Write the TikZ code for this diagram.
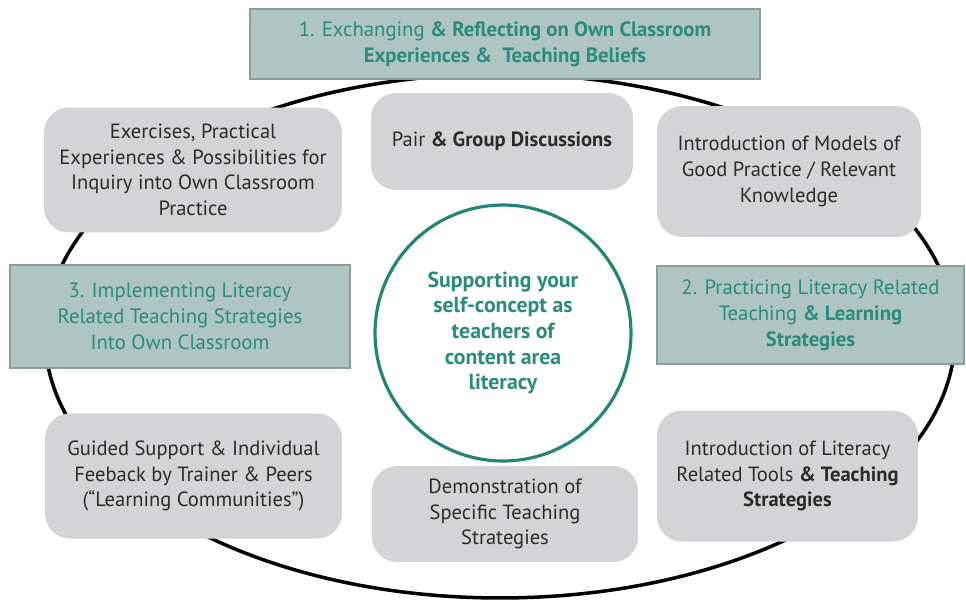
\documentclass[tikz,border=0pt]{standalone}
\usepackage{fontspec}
\setmainfont{PT Sans}
\usetikzlibrary{shapes.geometric}

\definecolor{tealfill}{HTML}{AEC5C1}
\definecolor{tealline}{HTML}{8E9C9A}
\definecolor{tealtext}{HTML}{2A8C7A}
\definecolor{ringteal}{HTML}{218774}
\definecolor{greyfill}{HTML}{D4D4D6}
\definecolor{darktext}{HTML}{2B2B2B}

\tikzset{
  phase/.style={draw=tealline, line width=1.3pt, fill=tealfill, text=tealtext, align=center, font=\fontsize{11.8}{14.8}\selectfont},
  activity/.style={fill=greyfill, rounded corners=0.5cm, text=darktext, align=center, font=\fontsize{11.7}{14.6}\selectfont},
}

\begin{document}
\begin{tikzpicture}[x=0.02cm, y=-0.02cm]
  \useasboundingbox (0,0) rectangle (966,603);
  % outer cycle
  \path[draw, line width=2pt] (500,336) ellipse [x radius=9.1cm, y radius=5.24cm];
  % phases
  \node[phase, minimum width=10.2cm, minimum height=1.4cm] (exchange) at (505,44)
    {1. Exchanging \textbf{\& Reflecting on Own Classroom}\\ \textbf{Experiences \& \ Teaching Beliefs}};
  \node[phase, minimum width=6.8cm, minimum height=2.06cm] (implement) at (180,316.5)
    {3. Implementing Literacy\\ Related Teaching Strategies\\ Into Own Classroom};
  \node[phase, minimum width=6.14cm, minimum height=1.96cm] (practice) at (810.5,315)
    {2. Practicing Literacy Related\\ Teaching \textbf{\& Learning}\\ \textbf{Strategies}};
  % activities
  \node[activity, minimum width=5.96cm, minimum height=2.5cm] (exercises) at (193,170)
    {Exercises, Practical\\ Experiences \& Possibilities for\\ Inquiry into Own Classroom\\ Practice};
  \node[activity, minimum width=5.24cm, minimum height=1.94cm] (discuss) at (502,141.5)
    {Pair \textbf{\& Group Discussions}};
  \node[activity, minimum width=5.28cm, minimum height=2.62cm] (models) at (789,171.5)
    {Introduction of Models of\\ Good Practice / Relevant\\ Knowledge};
  \node[activity, minimum width=5.94cm, minimum height=2.5cm] (guided) at (193.5,476)
    {Guided Support \& Individual\\ Feeback by Trainer \& Peers\\ (“Learning Communities”)};
  \node[activity, minimum width=5.32cm, minimum height=1.92cm] (demo) at (505,514)
    {Demonstration of\\ Specific Teaching\\ Strategies};
  \node[activity, minimum width=5.22cm, minimum height=2.62cm] (tools) at (787.5,476)
    {Introduction of Literacy\\ Related Tools \textbf{\& Teaching}\\ \textbf{Strategies}};
  % centre
  \node[circle, draw=ringteal, line width=1.8pt, fill=white, minimum size=5.12cm, text=tealtext, align=center,
    font=\fontsize{12.4}{14.6}\selectfont\bfseries] (centre) at (503,333)
    {Supporting your\\ self-concept as\\ teachers of\\ content area\\ literacy};
\end{tikzpicture}
\end{document}
